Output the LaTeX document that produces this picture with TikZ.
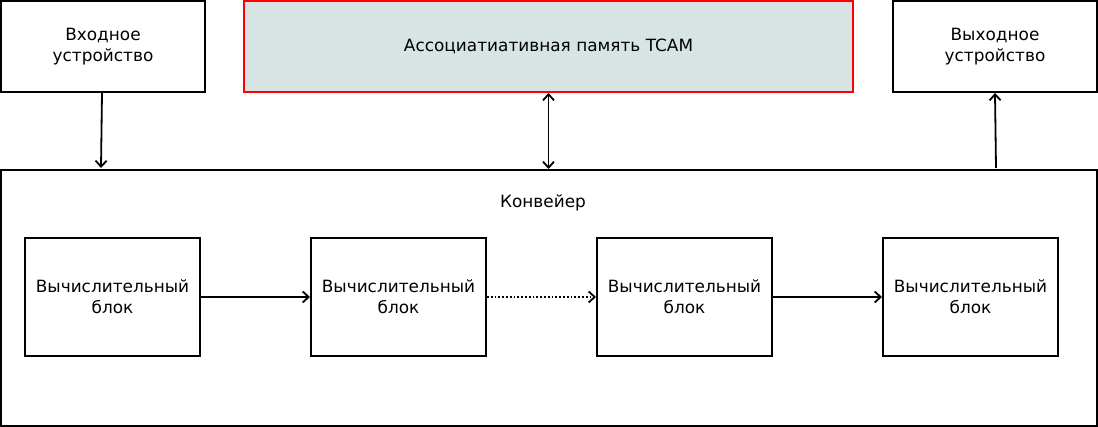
\documentclass[tikz,border=0pt]{standalone}
\usepackage{fontspec}
\setmainfont{DejaVu Sans}
\usetikzlibrary{arrows.meta}
\begin{document}
\begin{tikzpicture}[x=1pt,y=-1pt,
  txt/.style={font=\fontsize{16.9}{21}\selectfont},
  box/.style={txt,draw=black,line width=2pt,inner sep=0pt,align=center},
  arr/.style={line width=1.8pt,-{Straight Barb[length=6pt,width=11pt,line width=1.8pt]}},
  darr/.style={line width=1.8pt,{Straight Barb[length=6pt,width=11pt,line width=1.8pt]}-{Straight Barb[length=6pt,width=11pt,line width=1.8pt]}}]
\useasboundingbox (0,0) rectangle (1098,427);
\definecolor{tcamfill}{RGB}{216,228,228}
\node[box,minimum width=204pt,minimum height=91pt] (in) at (103,46.5) {Входное\\устройство};
\node[box,draw=red,fill=tcamfill,minimum width=609pt,minimum height=91pt] (tcam) at (548.5,46.5) {Ассоциатиативная память TCAM};
\node[box,minimum width=204pt,minimum height=91pt] (out) at (995,46.5) {Выходное\\устройство};
\node[box,minimum width=1096pt,minimum height=256pt] (conv) at (549,298) {};
\node[txt] (lbl) at (543,203) {Конвейер};
\node[box,minimum width=175pt,minimum height=118pt] (b1) at (112.5,297) {Вычислительный\\блок};
\node[box,minimum width=175pt,minimum height=118pt] (b2) at (398.5,297) {Вычислительный\\блок};
\node[box,minimum width=175pt,minimum height=118pt] (b3) at (684.5,297) {Вычислительный\\блок};
\node[box,minimum width=175pt,minimum height=118pt] (b4) at (970.5,297) {Вычислительный\\блок};
\coordinate (inend) at (101,168);
\coordinate (outstart) at (996,168);
\draw[arr] (in.south -| 102,0) -- (inend);
\draw[darr] (tcam.south) -- (tcam.south |- conv.north);
\draw[arr] (outstart) -- (out.south -| 995,0);
\draw[arr] (b1.east) -- (b2.west);
\draw[arr,dotted] (b2.east) -- (b3.west);
\draw[arr] (b3.east) -- (b4.west);
\end{tikzpicture}
\end{document}
